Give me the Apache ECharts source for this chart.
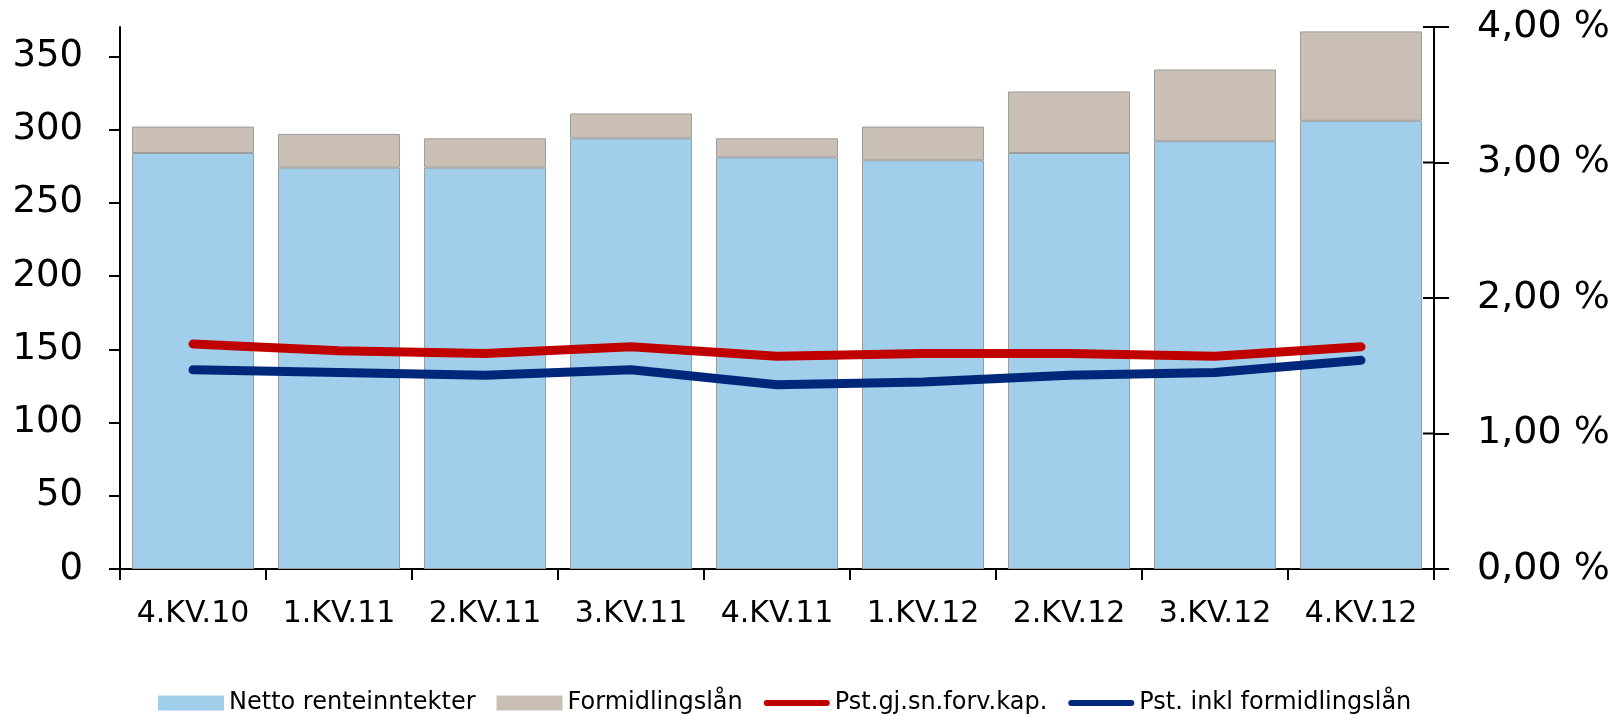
<!DOCTYPE html>
<html>
<head>
<meta charset="utf-8">
<script src="https://cdn.jsdelivr.net/npm/echarts@6/dist/echarts.min.js"></script>
<style>html,body{margin:0;padding:0;background:#fff}#c{width:1619px;height:715px}</style>
</head>
<body>
<div id="c"></div>
<script>
const categories = ['4.KV.10','1.KV.11','2.KV.11','3.KV.11','4.KV.11','1.KV.12','2.KV.12','3.KV.12','4.KV.12'];
const nettoRenteinntekter = [284, 274, 274, 294, 281, 279, 284, 292, 306];
const formidlingslan = [18, 23, 20, 17, 13, 23, 42, 49, 61];
const pstGjSnForvKap = [1.66, 1.61, 1.59, 1.64, 1.57, 1.59, 1.59, 1.57, 1.64];
const pstInklFormidlingslan = [1.47, 1.45, 1.43, 1.47, 1.36, 1.38, 1.43, 1.45, 1.54];
const leftTicks = [0, 50, 100, 150, 200, 250, 300, 350];
const rightTicks = [0, 1, 2, 3, 4];

const FONT = 'DejaVu Sans';
const lineIcon = 'path://M3,0 L62,0 A3,3 0 0 1 62,6 L3,6 A3,3 0 0 1 3,0 Z';
const chart = echarts.init(document.getElementById('c'), null, {renderer: 'canvas'});
const barBorder = {borderColor: '#9c9c9c', borderWidth: 1};
chart.setOption({
  animation: false,
  backgroundColor: '#fff',
  grid: {left: 120, right: 185, top: 27, bottom: 146},
  legend: {
    left: 153, top: 686,
    itemWidth: 66, itemHeight: 15, itemGap: 21,
    textStyle: {fontFamily: FONT, fontSize: 24, color: '#000'},
    data: [
      {name: 'Netto renteinntekter', icon: 'rect', itemStyle: {borderWidth: 0}},
      {name: 'Formidlingslån', icon: 'rect', itemStyle: {borderWidth: 0}},
      {name: 'Pst.gj.sn.forv.kap.', icon: lineIcon, itemStyle: {borderWidth: 0}},
      {name: 'Pst. inkl formidlingslån', icon: lineIcon, itemStyle: {borderWidth: 0}}
    ]
  },
  xAxis: {
    type: 'category', data: categories, boundaryGap: true,
    axisLine: {lineStyle: {color: '#000', width: 2}},
    axisTick: {show: true, interval: 0, length: 11, lineStyle: {color: '#000', width: 2}},
    axisLabel: {fontFamily: FONT, fontSize: 30, color: '#000', margin: 30, interval: 0, hideOverlap: false}
  },
  yAxis: [
    {
      type: 'value', position: 'left', min: 0, max: 370, interval: 50,
      splitLine: {show: false},
      axisLine: {show: true, lineStyle: {color: '#000', width: 2}},
      axisTick: {show: true, length: 11, customValues: leftTicks, lineStyle: {color: '#000', width: 2}},
      axisLabel: {fontFamily: FONT, fontSize: 37, color: '#000', margin: 37, customValues: leftTicks}
    },
    {
      type: 'value', position: 'right', min: 0, max: 4, interval: 1,
      splitLine: {show: false},
      axisLine: {show: true, lineStyle: {color: '#000', width: 2}},
      axisTick: {show: true, length: 15, customValues: rightTicks, lineStyle: {color: '#000', width: 2}},
      axisLabel: {fontFamily: FONT, fontSize: 38, color: '#000', margin: 43, customValues: rightTicks,
        formatter: v => v.toFixed(2).replace('.', ',') + ' %'}
    }
  ],
  series: [
    {
      name: 'Netto renteinntekter', type: 'bar', stack: 'a', yAxisIndex: 0,
      barCategoryGap: '16.4%', data: nettoRenteinntekter,
      itemStyle: Object.assign({color: '#A1CEEB'}, barBorder)
    },
    {
      name: 'Formidlingslån', type: 'bar', stack: 'a', yAxisIndex: 0,
      barCategoryGap: '16.4%', data: formidlingslan,
      itemStyle: Object.assign({color: '#C9BFB5'}, barBorder)
    },
    {
      name: 'Pst.gj.sn.forv.kap.', type: 'line', yAxisIndex: 1, data: pstGjSnForvKap,
      symbol: 'none', z: 5,
      lineStyle: {color: '#C00000', width: 9, cap: 'round', join: 'round'},
      itemStyle: {color: '#C00000'}
    },
    {
      name: 'Pst. inkl formidlingslån', type: 'line', yAxisIndex: 1, data: pstInklFormidlingslan,
      symbol: 'none', z: 5,
      lineStyle: {color: '#00287A', width: 9, cap: 'round', join: 'round'},
      itemStyle: {color: '#00287A'}
    }
  ]
});

// inner half of the crossing tick marks on the right axis, positioned via the axis scale
const rect = chart.getModel().getComponent('grid', 0).coordinateSystem.getRect();
const axisX = rect.x + rect.width;
chart.setOption({
  graphic: rightTicks.map(v => {
    const y = chart.convertToPixel({yAxisIndex: 1}, v);
    return {type: 'line', shape: {x1: axisX - 11, y1: y, x2: axisX, y2: y},
            style: {stroke: '#000', lineWidth: 2}, z: 10};
  })
});
</script>
</body>
</html>
